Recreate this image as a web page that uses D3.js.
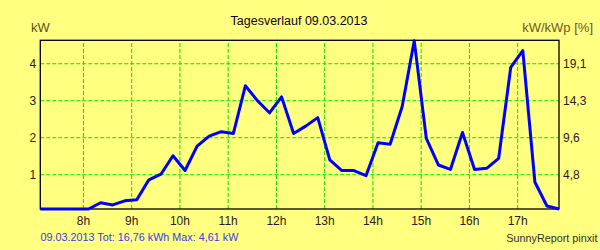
<!DOCTYPE html>
<html>
<head>
<meta charset="utf-8">
<script src="https://cdn.jsdelivr.net/npm/d3@7"></script>
<style>
  body { margin: 0; background: #ffff80; }
  svg { display: block; font-family: "Liberation Sans", Arial, sans-serif; }
</style>
</head>
<body>
<svg id="chart" width="600" height="250"></svg>
<script>
// 15 minute samples of the day
const times = ["07:07","07:22","07:37","07:52","08:07","08:22","08:37","08:52","09:07","09:22","09:37","09:52",
  "10:07","10:22","10:37","10:52","11:07","11:22","11:37","11:52","12:07","12:22","12:37","12:52",
  "13:07","13:22","13:37","13:52","14:07","14:22","14:37","14:52","15:07","15:22","15:37","15:52",
  "16:07","16:22","16:37","16:52","17:07","17:22","17:37","17:52"]
const power = [0,0,0,0,0,0.23,0.17,0.28,0.31,0.85,1.00,1.50,
  1.10,1.76,2.03,2.15,2.10,3.39,2.99,2.66,3.09,2.10,2.30,2.53,
  1.39,1.10,1.10,0.96,1.85,1.81,2.83,4.61,1.97,1.25,1.13,2.13,
  1.13,1.16,1.43,3.89,4.34,0.79,0.14,0.05]

const hourTicks = [8,9,10,11,12,13,14,15,16,17]
const kwTicks = [1,2,3,4]
const pctLabels = ["4,8","9,6","14,3","19,1"]

const title = "Tagesverlauf 09.03.2013"
const footLeft = "09.03.2013 Tot: 16,76 kWh Max: 4,61 kW"
const footRight = "SunnyReport pinxit"

const svg = d3.select('#chart')
const pLeft = 40.3, pRight = 559, pTop = 40.3, pBottom = 209

// "HH:MM" -> decimal hours
const toHours = s => +s.slice(0,2) + (+s.slice(3)) / 60
const data = times.map((t,i) => ({h: toHours(t), kw: power[i]}))

const x = d3.scaleLinear()
  .domain([toHours(times[0]), toHours(times[times.length-1])])
  .range([pLeft, pRight])
const y = d3.scaleLinear()
  .domain([0.06, 4.62])
  .range([pBottom, pTop])
  .clamp(true)

svg.append("rect")
  .attr("width", 600).attr("height", 250)
  .attr("fill", "#ffff80")

// grid
svg.append("g")
  .attr("transform", "translate(0," + pBottom + ")")
  .call(d3.axisBottom(x).tickValues(hourTicks).tickSize(-(pBottom - pTop)).tickFormat(""))
  .call(g => g.select(".domain").remove())
  .selectAll("line")
    .attr("stroke", "#00e600")
    .attr("stroke-dasharray", "4,2")
svg.append("g")
  .attr("transform", "translate(" + pLeft + ",0)")
  .call(d3.axisLeft(y).tickValues(kwTicks).tickSize(-(pRight - pLeft)).tickFormat(""))
  .call(g => g.select(".domain").remove())
  .selectAll("line")
    .attr("stroke", "#00e600")
    .attr("stroke-dasharray", "4,2")

// tick labels
const xAx = svg.append("g")
  .attr("transform", "translate(0," + pBottom + ")")
  .call(d3.axisBottom(x).tickValues(hourTicks).tickSize(0).tickPadding(7).tickFormat(d => d + "h"))
xAx.select(".domain").remove()

const yAx = svg.append("g")
  .attr("transform", "translate(" + pLeft + ",0)")
  .call(d3.axisLeft(y).tickValues(kwTicks).tickSize(0).tickPadding(4).tickFormat(d => d))
yAx.select(".domain").remove()

const y2Ax = svg.append("g")
  .attr("transform", "translate(" + pRight + ",0)")
  .call(d3.axisRight(y).tickValues(kwTicks).tickSize(0).tickPadding(4).tickFormat((d,i) => pctLabels[i]))
y2Ax.select(".domain").remove()

svg.selectAll(".tick text")
  .attr("font-family", "Liberation Sans, Arial, sans-serif")
  .attr("font-size", 12)
  .attr("fill", "#301818")

// frame
svg.append("rect")
  .attr("x", pLeft).attr("y", pTop)
  .attr("width", pRight - pLeft).attr("height", pBottom - pTop)
  .attr("fill", "none")
  .attr("stroke", "#000")
  .attr("stroke-width", 1.3)

// the curve
svg.append("path")
  .datum(data)
  .attr("fill", "none")
  .attr("stroke", "#0000ff")
  .attr("stroke-width", 3)
  .attr("stroke-linejoin", "round")
  .attr("d", d3.line()
    .x(d => x(d.h))
    .y(d => y(d.kw)))

// texts
svg.append("text")
  .attr("x", 299).attr("y", 25)
  .attr("text-anchor", "middle")
  .attr("font-size", 12.5)
  .attr("fill", "#100010")
  .text(title)
svg.append("text")
  .attr("x", 31).attr("y", 32)
  .attr("font-size", 13)
  .attr("fill", "#605020")
  .text("kW")
svg.append("text")
  .attr("x", 593).attr("y", 32)
  .attr("text-anchor", "end")
  .attr("font-size", 13)
  .attr("fill", "#705820")
  .text("kW/kWp [%]")
svg.append("text")
  .attr("x", 40.5).attr("y", 241)
  .attr("font-size", 10.8)
  .attr("fill", "#3a3ae0")
  .text(footLeft)
svg.append("text")
  .attr("x", 597.5).attr("y", 242)
  .attr("text-anchor", "end")
  .attr("font-size", 10.8)
  .attr("fill", "#303030")
  .text(footRight)
</script>
</body>
</html>
